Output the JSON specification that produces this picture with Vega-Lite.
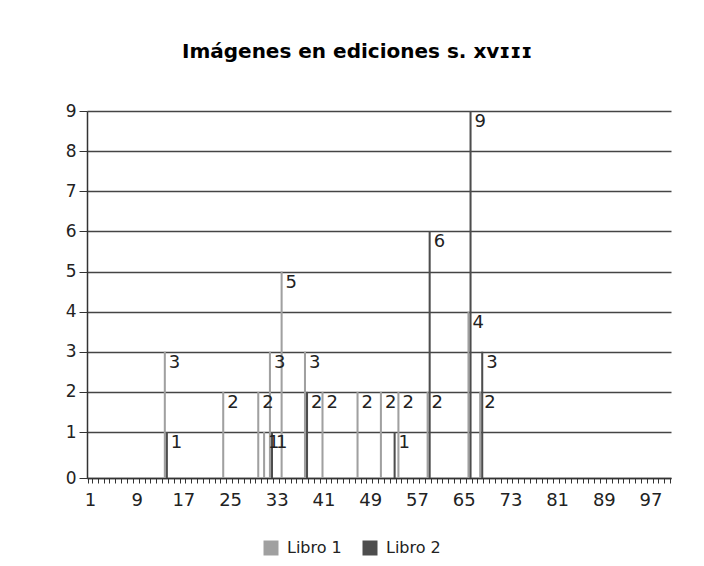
{
  "$schema": "https://vega.github.io/schema/vega-lite/v6.json",
  "width": 584,
  "height": 367,
  "autosize": {"type": "none"},
  "padding": {"left": 87, "top": 111, "right": 33, "bottom": 88},
  "background": "white",
  "config": {"font": "DejaVu Sans", "view": {"stroke": null}},
  "title": {"text": "Imágenes en ediciones s. xᴠɪɪɪ", "fontSize": 20, "fontWeight": "bold", "font": "DejaVu Sans", "color": "#000000", "anchor": "middle", "frame": "group", "dx": -22, "offset": 24, "baseline": "alphabetic"},
  "data": {"values": [
    {"pos": 14, "serie": "Libro 1", "n": 3},
    {"pos": 24, "serie": "Libro 1", "n": 2},
    {"pos": 30, "serie": "Libro 1", "n": 2},
    {"pos": 31, "serie": "Libro 1", "n": 1},
    {"pos": 32, "serie": "Libro 1", "n": 3},
    {"pos": 34, "serie": "Libro 1", "n": 5},
    {"pos": 38, "serie": "Libro 1", "n": 3},
    {"pos": 41, "serie": "Libro 1", "n": 2},
    {"pos": 47, "serie": "Libro 1", "n": 2},
    {"pos": 51, "serie": "Libro 1", "n": 2},
    {"pos": 54, "serie": "Libro 1", "n": 2},
    {"pos": 59, "serie": "Libro 1", "n": 2},
    {"pos": 66, "serie": "Libro 1", "n": 4},
    {"pos": 68, "serie": "Libro 1", "n": 2},
    {"pos": 14, "serie": "Libro 2", "n": 1},
    {"pos": 32, "serie": "Libro 2", "n": 1},
    {"pos": 38, "serie": "Libro 2", "n": 2},
    {"pos": 53, "serie": "Libro 2", "n": 1},
    {"pos": 59, "serie": "Libro 2", "n": 6},
    {"pos": 66, "serie": "Libro 2", "n": 9},
    {"pos": 68, "serie": "Libro 2", "n": 3}
  ]},
  "encoding": {
    "x": {
      "field": "pos", "type": "ordinal",
      "scale": {"domain": [1,2,3,4,5,6,7,8,9,10,11,12,13,14,15,16,17,18,19,20,21,22,23,24,25,26,27,28,29,30,31,32,33,34,35,36,37,38,39,40,41,42,43,44,45,46,47,48,49,50,51,52,53,54,55,56,57,58,59,60,61,62,63,64,65,66,67,68,69,70,71,72,73,74,75,76,77,78,79,80,81,82,83,84,85,86,87,88,89,90,91,92,93,94,95,96,97,98,99,100], "paddingInner": 0.3, "paddingOuter": 0.15},
      "axis": {"title": null, "labelAngle": 0, "labelExpr": "(datum.value - 1) % 8 == 0 ? datum.label : ''", "labelOverlap": false, "tickBand": "extent", "tickSize": 5, "tickColor": "#333333", "domainColor": "#333333", "domainWidth": 1.5, "labelFontSize": 18, "labelColor": "#222222", "labelPadding": 8, "grid": false}
    },
    "xOffset": {"field": "serie", "type": "nominal", "scale": {"domain": ["Libro 1", "Libro 2"]}},
    "y": {
      "field": "n", "type": "quantitative",
      "scale": {"domain": [0, 1, 9], "range": [367, 321, 0]},
      "axis": {"title": null, "values": [0,1,2,3,4,5,6,7,8,9], "tickSize": 8, "labelPadding": 3, "labelFontSize": 17, "labelColor": "#222222", "grid": true, "gridColor": "#444444", "gridWidth": 1.5, "domainColor": "#333333", "domainWidth": 1.5, "tickColor": "#333333"}
    }
  },
  "layer": [
    {
      "mark": {"type": "bar"},
      "encoding": {
        "color": {
          "field": "serie", "type": "nominal",
          "scale": {"domain": ["Libro 1", "Libro 2"], "range": ["#a0a0a0", "#4d4d4d"]},
          "legend": {"title": null, "orient": "none", "legendX": 176, "legendY": 429, "direction": "horizontal", "symbolType": "square", "symbolSize": 225, "symbolStrokeWidth": 0, "labelFontSize": 16, "labelColor": "#222222", "labelOffset": 8, "columnPadding": 20}
        }
      }
    },
    {
      "mark": {"type": "text", "align": "left", "baseline": "top", "dx": 4, "dy": 2, "fontSize": 18, "color": "#222222"},
      "encoding": {"text": {"field": "n", "type": "quantitative"}}
    }
  ]
}
